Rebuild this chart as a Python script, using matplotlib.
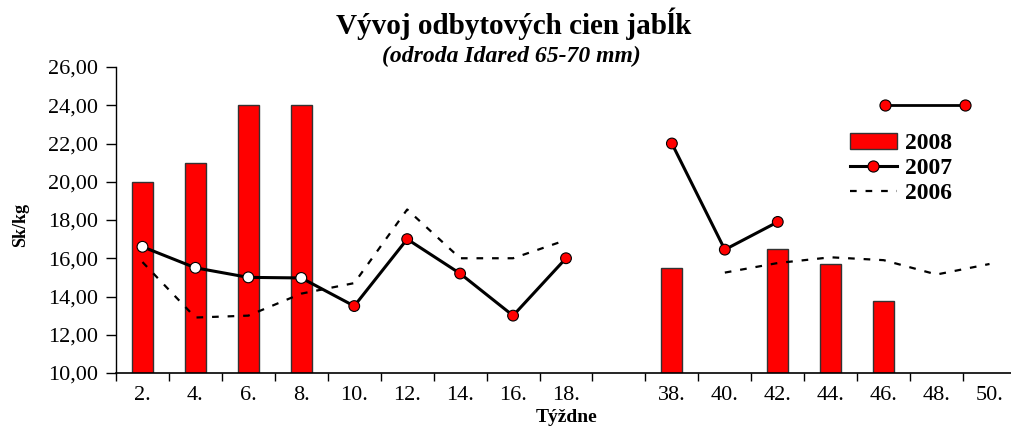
import numpy as np
import matplotlib
matplotlib.use("Agg")
import matplotlib.pyplot as plt
from matplotlib.lines import Line2D
from matplotlib.patches import Patch

weeks = ['2.', '4.', '6.', '8.', '10.', '12.', '14.', '16.', '18.', '',
         '38.', '40.', '42.', '44.', '46.', '48.', '50.']
nan = np.nan
s2008 = [20.0, 21.0, 24.0, 24.0, nan, nan, nan, nan, nan, nan,
         15.5, nan, 16.5, 15.7, 13.75, nan, nan]
s2007 = [16.6, 15.5, 15.0, 14.97, 13.5, 17.0, 15.2, 13.0, 16.0, nan,
         22.0, 16.45, 17.9, nan, nan, nan, nan]
s2006 = [15.8, 12.9, 13.0, 14.15, 14.7, 18.55, 16.0, 16.0, 16.95, nan,
         nan, 15.25, 15.75, 16.05, 15.9, 15.15, 15.7]

SERIF = ['Liberation Serif', 'DejaVu Serif']
plt.rcParams['font.family'] = SERIF

def main():
    fig = plt.figure(figsize=(10.11, 4.26), dpi=100)
    ax = fig.add_axes([116/1011, 53/426, 900/1011, 306/426])
    x = np.arange(len(weeks))

    ax.bar(x, s2008, width=0.4, color='#ff0000', edgecolor='#333333', linewidth=1, zorder=2)
    ax.plot(x, s2006, color='black', linewidth=1.6, linestyle=(0, (3, 4)), zorder=3)
    ax.plot(x, s2007, color='black', linewidth=2.2, zorder=4)
    faces = ['white'] * 4 + ['#ff0000'] * (len(weeks) - 4)
    ax.scatter(x, s2007, s=60, c=faces, edgecolors='black', linewidths=0.8, zorder=5)

    ax.set_xlim(-0.5, len(weeks) - 0.5)
    ax.set_ylim(10, 26)
    yt = np.arange(10, 27, 2)
    ax.set_yticks(yt)
    ax.set_yticklabels([('%.2f' % v).replace('.', ',') for v in yt])
    ax.set_xticks(x)
    ax.set_xticklabels(weeks)
    ax.set_xticks(np.arange(-0.5, len(weeks), 1), minor=True)
    ax.tick_params(axis='x', which='major', length=0, pad=9, labelsize=16)
    ax.tick_params(axis='x', which='minor', length=6, direction='out', width=1)
    ax.tick_params(axis='y', length=7, direction='out', width=1, pad=6, labelsize=16)
    for side in ('top', 'right'):
        ax.spines[side].set_visible(False)
    ax.spines['left'].set_linewidth(1)
    ax.spines['bottom'].set_linewidth(1.2)

    # stray legend marker line from the original sheet
    ax.add_line(Line2D([0.854, 0.943], [0.876, 0.876], transform=ax.transAxes,
                       color='black', linewidth=2, marker='o', markersize=8,
                       markerfacecolor='#ff0000', markeredgecolor='black',
                       markeredgewidth=0.8, clip_on=False))

    handles = [Patch(facecolor='#ff0000', edgecolor='#333333', linewidth=1),
               Line2D([], [], color='black', linewidth=2.2, marker='o', markersize=8,
                      markerfacecolor='#ff0000', markeredgecolor='black', markeredgewidth=0.8),
               Line2D([], [], color='black', linewidth=1.6, linestyle=(0, (3, 4)))]
    ax.legend(handles, ['2008', '2007', '2006'], loc='upper left',
              bbox_to_anchor=(0.815, 0.785), frameon=False, borderpad=0,
              borderaxespad=0, handlelength=2.0, handletextpad=0.35,
              labelspacing=0.15, prop={'family': SERIF, 'weight': 'bold', 'size': 17})

    fig.text(0.508, 0.945, 'Vývoj odbytových cien jabĺk', ha='center', va='center',
             fontsize=21, fontweight='bold')
    fig.text(0.506, 0.868, '(odroda Idared 65-70 mm)', ha='center', va='center',
             fontsize=17, fontweight='bold', fontstyle='italic')
    fig.text(0.02, 0.472, 'Sk/kg', rotation=90, ha='center', va='center',
             fontsize=13, fontweight='bold')
    fig.text(0.56, 0.01, 'Týždne', ha='center', va='baseline',
             fontsize=14, fontweight='bold')

    fig.savefig('out.png', dpi=100)

if __name__ == '__main__':
    main()
